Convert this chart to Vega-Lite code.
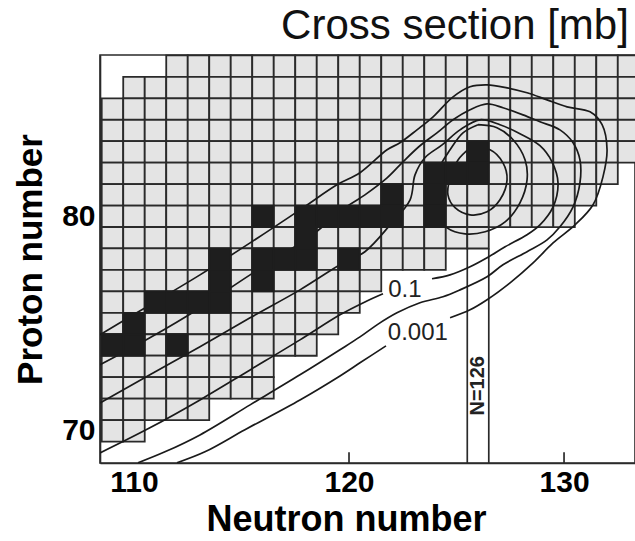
{
"$schema":"https://vega.github.io/schema/vega-lite/v6.json",
"width":535,"height":408,
"autosize":{"type":"none"},
"padding":{"left":100,"top":55,"right":0,"bottom":78},
"background":"white",
"config":{"view":{"stroke":"#2a2a2a","strokeWidth":1.6},"font":"Liberation Sans"},
"title":{"text":"Cross section [mb]","anchor":"end","fontSize":42,"fontWeight":"normal","font":"Liberation Sans","color":"#111","offset":4,"dx":-14},
"datasets":{
"grey":[
{"N":112,"Z":87},{"N":113,"Z":87},{"N":114,"Z":87},{"N":115,"Z":87},{"N":116,"Z":87},{"N":117,"Z":87},{"N":118,"Z":87},{"N":119,"Z":87},{"N":120,"Z":87},{"N":121,"Z":87},{"N":122,"Z":87},{"N":123,"Z":87},{"N":124,"Z":87},{"N":125,"Z":87},{"N":126,"Z":87},{"N":127,"Z":87},{"N":128,"Z":87},{"N":129,"Z":87},{"N":130,"Z":87},{"N":131,"Z":87},{"N":132,"Z":87},{"N":133,"Z":87},
{"N":110,"Z":86},{"N":111,"Z":86},{"N":112,"Z":86},{"N":113,"Z":86},{"N":114,"Z":86},{"N":115,"Z":86},{"N":116,"Z":86},{"N":117,"Z":86},{"N":118,"Z":86},{"N":119,"Z":86},{"N":120,"Z":86},{"N":121,"Z":86},{"N":122,"Z":86},{"N":123,"Z":86},{"N":124,"Z":86},{"N":125,"Z":86},{"N":126,"Z":86},{"N":127,"Z":86},{"N":128,"Z":86},{"N":129,"Z":86},{"N":130,"Z":86},{"N":131,"Z":86},{"N":132,"Z":86},{"N":133,"Z":86},
{"N":109,"Z":85},{"N":110,"Z":85},{"N":111,"Z":85},{"N":112,"Z":85},{"N":113,"Z":85},{"N":114,"Z":85},{"N":115,"Z":85},{"N":116,"Z":85},{"N":117,"Z":85},{"N":118,"Z":85},{"N":119,"Z":85},{"N":120,"Z":85},{"N":121,"Z":85},{"N":122,"Z":85},{"N":123,"Z":85},{"N":124,"Z":85},{"N":125,"Z":85},{"N":126,"Z":85},{"N":127,"Z":85},{"N":128,"Z":85},{"N":129,"Z":85},{"N":130,"Z":85},{"N":131,"Z":85},{"N":132,"Z":85},{"N":133,"Z":85},
{"N":109,"Z":84},{"N":110,"Z":84},{"N":111,"Z":84},{"N":112,"Z":84},{"N":113,"Z":84},{"N":114,"Z":84},{"N":115,"Z":84},{"N":116,"Z":84},{"N":117,"Z":84},{"N":118,"Z":84},{"N":119,"Z":84},{"N":120,"Z":84},{"N":121,"Z":84},{"N":122,"Z":84},{"N":123,"Z":84},{"N":124,"Z":84},{"N":125,"Z":84},{"N":126,"Z":84},{"N":127,"Z":84},{"N":128,"Z":84},{"N":129,"Z":84},{"N":130,"Z":84},{"N":131,"Z":84},{"N":132,"Z":84},{"N":133,"Z":84},
{"N":109,"Z":83},{"N":110,"Z":83},{"N":111,"Z":83},{"N":112,"Z":83},{"N":113,"Z":83},{"N":114,"Z":83},{"N":115,"Z":83},{"N":116,"Z":83},{"N":117,"Z":83},{"N":118,"Z":83},{"N":119,"Z":83},{"N":120,"Z":83},{"N":121,"Z":83},{"N":122,"Z":83},{"N":123,"Z":83},{"N":124,"Z":83},{"N":125,"Z":83},{"N":126,"Z":83},{"N":127,"Z":83},{"N":128,"Z":83},{"N":129,"Z":83},{"N":130,"Z":83},{"N":131,"Z":83},{"N":132,"Z":83},{"N":133,"Z":83},
{"N":109,"Z":82},{"N":110,"Z":82},{"N":111,"Z":82},{"N":112,"Z":82},{"N":113,"Z":82},{"N":114,"Z":82},{"N":115,"Z":82},{"N":116,"Z":82},{"N":117,"Z":82},{"N":118,"Z":82},{"N":119,"Z":82},{"N":120,"Z":82},{"N":121,"Z":82},{"N":122,"Z":82},{"N":123,"Z":82},{"N":124,"Z":82},{"N":125,"Z":82},{"N":126,"Z":82},{"N":127,"Z":82},{"N":128,"Z":82},{"N":129,"Z":82},{"N":130,"Z":82},{"N":131,"Z":82},{"N":132,"Z":82},
{"N":109,"Z":81},{"N":110,"Z":81},{"N":111,"Z":81},{"N":112,"Z":81},{"N":113,"Z":81},{"N":114,"Z":81},{"N":115,"Z":81},{"N":116,"Z":81},{"N":117,"Z":81},{"N":118,"Z":81},{"N":119,"Z":81},{"N":120,"Z":81},{"N":121,"Z":81},{"N":122,"Z":81},{"N":123,"Z":81},{"N":124,"Z":81},{"N":125,"Z":81},{"N":126,"Z":81},{"N":127,"Z":81},{"N":128,"Z":81},{"N":129,"Z":81},{"N":130,"Z":81},{"N":131,"Z":81},
{"N":109,"Z":80},{"N":110,"Z":80},{"N":111,"Z":80},{"N":112,"Z":80},{"N":113,"Z":80},{"N":114,"Z":80},{"N":115,"Z":80},{"N":116,"Z":80},{"N":117,"Z":80},{"N":118,"Z":80},{"N":119,"Z":80},{"N":120,"Z":80},{"N":121,"Z":80},{"N":122,"Z":80},{"N":123,"Z":80},{"N":124,"Z":80},{"N":125,"Z":80},{"N":126,"Z":80},{"N":127,"Z":80},{"N":128,"Z":80},{"N":129,"Z":80},{"N":130,"Z":80},
{"N":109,"Z":79},{"N":110,"Z":79},{"N":111,"Z":79},{"N":112,"Z":79},{"N":113,"Z":79},{"N":114,"Z":79},{"N":115,"Z":79},{"N":116,"Z":79},{"N":117,"Z":79},{"N":118,"Z":79},{"N":119,"Z":79},{"N":120,"Z":79},{"N":121,"Z":79},{"N":122,"Z":79},{"N":123,"Z":79},{"N":124,"Z":79},{"N":125,"Z":79},{"N":126,"Z":79},
{"N":109,"Z":78},{"N":110,"Z":78},{"N":111,"Z":78},{"N":112,"Z":78},{"N":113,"Z":78},{"N":114,"Z":78},{"N":115,"Z":78},{"N":116,"Z":78},{"N":117,"Z":78},{"N":118,"Z":78},{"N":119,"Z":78},{"N":120,"Z":78},{"N":121,"Z":78},{"N":122,"Z":78},{"N":123,"Z":78},{"N":124,"Z":78},
{"N":109,"Z":77},{"N":110,"Z":77},{"N":111,"Z":77},{"N":112,"Z":77},{"N":113,"Z":77},{"N":114,"Z":77},{"N":115,"Z":77},{"N":116,"Z":77},{"N":117,"Z":77},{"N":118,"Z":77},{"N":119,"Z":77},{"N":120,"Z":77},{"N":121,"Z":77},
{"N":109,"Z":76},{"N":110,"Z":76},{"N":111,"Z":76},{"N":112,"Z":76},{"N":113,"Z":76},{"N":114,"Z":76},{"N":115,"Z":76},{"N":116,"Z":76},{"N":117,"Z":76},{"N":118,"Z":76},{"N":119,"Z":76},{"N":120,"Z":76},
{"N":109,"Z":75},{"N":110,"Z":75},{"N":111,"Z":75},{"N":112,"Z":75},{"N":113,"Z":75},{"N":114,"Z":75},{"N":115,"Z":75},{"N":116,"Z":75},{"N":117,"Z":75},{"N":118,"Z":75},{"N":119,"Z":75},
{"N":109,"Z":74},{"N":110,"Z":74},{"N":111,"Z":74},{"N":112,"Z":74},{"N":113,"Z":74},{"N":114,"Z":74},{"N":115,"Z":74},{"N":116,"Z":74},{"N":117,"Z":74},{"N":118,"Z":74},
{"N":109,"Z":73},{"N":110,"Z":73},{"N":111,"Z":73},{"N":112,"Z":73},{"N":113,"Z":73},{"N":114,"Z":73},{"N":115,"Z":73},{"N":116,"Z":73},
{"N":109,"Z":72},{"N":110,"Z":72},{"N":111,"Z":72},{"N":112,"Z":72},{"N":113,"Z":72},{"N":114,"Z":72},{"N":115,"Z":72},{"N":116,"Z":72},
{"N":109,"Z":71},{"N":110,"Z":71},{"N":111,"Z":71},{"N":112,"Z":71},{"N":113,"Z":71},
{"N":109,"Z":70},{"N":110,"Z":70}
],
"stable":[
{"N":126,"Z":83},
{"N":124,"Z":82},{"N":125,"Z":82},{"N":126,"Z":82},
{"N":122,"Z":81},{"N":124,"Z":81},
{"N":116,"Z":80},{"N":118,"Z":80},{"N":119,"Z":80},{"N":120,"Z":80},{"N":121,"Z":80},{"N":122,"Z":80},{"N":124,"Z":80},
{"N":118,"Z":79},
{"N":114,"Z":78},{"N":116,"Z":78},{"N":117,"Z":78},{"N":118,"Z":78},{"N":120,"Z":78},
{"N":114,"Z":77},{"N":116,"Z":77},
{"N":111,"Z":76},{"N":112,"Z":76},{"N":113,"Z":76},{"N":114,"Z":76},
{"N":110,"Z":75},
{"N":109,"Z":74},{"N":110,"Z":74},{"N":112,"Z":74}
],
"rules":[
{"r":"n1","N":125.5,"Z":68.5},{"r":"n1","N":125.5,"Z":78.5},
{"r":"n2","N":126.5,"Z":68.5},{"r":"n2","N":126.5,"Z":78.5},
{"r":"t1","N":120,"Z":68.5},{"r":"t1","N":120,"Z":69.0},
{"r":"t2","N":130,"Z":68.5},{"r":"t2","N":130,"Z":69.0}
],
"contours":[
{"c":"c1","o":1,"N":125.63,"Z":83.19},{"c":"c1","o":2,"N":126.56,"Z":83.10},{"c":"c1","o":3,"N":127.16,"Z":82.49},{"c":"c1","o":4,"N":127.35,"Z":81.70},{"c":"c1","o":5,"N":127.02,"Z":80.77},{"c":"c1","o":6,"N":126.42,"Z":80.21},{"c":"c1","o":7,"N":125.63,"Z":80.07},{"c":"c1","o":8,"N":124.93,"Z":80.40},{"c":"c1","o":9,"N":124.60,"Z":81.00},{"c":"c1","o":10,"N":124.70,"Z":81.79},{"c":"c1","o":11,"N":125.07,"Z":82.63},{"c":"c1","o":12,"N":125.63,"Z":83.19},
{"c":"c2","o":1,"N":126.0,"Z":84.27},{"c":"c2","o":2,"N":126.88,"Z":84.13},{"c":"c2","o":3,"N":127.63,"Z":83.57},{"c":"c2","o":4,"N":128.19,"Z":82.63},{"c":"c2","o":5,"N":128.28,"Z":81.70},{"c":"c2","o":6,"N":127.95,"Z":80.63},{"c":"c2","o":7,"N":127.26,"Z":79.74},{"c":"c2","o":8,"N":126.33,"Z":79.28},{"c":"c2","o":9,"N":125.40,"Z":79.18},{"c":"c2","o":10,"N":124.56,"Z":79.46},{"c":"c2","o":11,"N":124.05,"Z":80.16},{"c":"c2","o":12,"N":123.86,"Z":81.00},{"c":"c2","o":13,"N":124.09,"Z":82.07},{"c":"c2","o":14,"N":124.70,"Z":83.10},{"c":"c2","o":15,"N":125.30,"Z":83.89},{"c":"c2","o":16,"N":126.0,"Z":84.27},
{"c":"p1a","o":1,"N":108.42,"Z":71.30},{"c":"p1a","o":2,"N":110.74,"Z":72.61},{"c":"p1a","o":3,"N":113.07,"Z":73.92},{"c":"p1a","o":4,"N":115.40,"Z":75.27},{"c":"p1a","o":5,"N":117.72,"Z":76.57},{"c":"p1a","o":6,"N":119.58,"Z":77.74},{"c":"p1a","o":7,"N":120.74,"Z":78.35},{"c":"p1a","o":8,"N":121.91,"Z":79.60},{"c":"p1a","o":9,"N":122.84,"Z":80.77},{"c":"p1a","o":10,"N":123.07,"Z":81.93},{"c":"p1a","o":11,"N":123.53,"Z":82.73},{"c":"p1a","o":12,"N":124.33,"Z":83.33},{"c":"p1a","o":13,"N":125.16,"Z":84.03},{"c":"p1a","o":14,"N":126.09,"Z":84.50},{"c":"p1a","o":15,"N":127.02,"Z":84.27},{"c":"p1a","o":16,"N":127.95,"Z":83.85},{"c":"p1a","o":17,"N":128.88,"Z":83.29},{"c":"p1a","o":18,"N":129.44,"Z":82.54},{"c":"p1a","o":19,"N":129.72,"Z":81.56},{"c":"p1a","o":20,"N":129.49,"Z":80.44},{"c":"p1a","o":21,"N":128.88,"Z":79.60},{"c":"p1a","o":22,"N":128.28,"Z":79.14},{"c":"p1a","o":23,"N":127.26,"Z":78.58},{"c":"p1a","o":24,"N":126.42,"Z":78.07},{"c":"p1a","o":25,"N":125.63,"Z":77.65},{"c":"p1a","o":26,"N":124.70,"Z":77.27},{"c":"p1a","o":27,"N":123.86,"Z":77.09},
{"c":"p1b","o":1,"N":121.58,"Z":76.39},{"c":"p1b","o":2,"N":120.74,"Z":76.01},{"c":"p1b","o":3,"N":119.58,"Z":75.41},{"c":"p1b","o":4,"N":117.72,"Z":74.24},{"c":"p1b","o":5,"N":115.40,"Z":72.84},{"c":"p1b","o":6,"N":113.07,"Z":71.44},{"c":"p1b","o":7,"N":110.74,"Z":70.14},{"c":"p1b","o":8,"N":108.42,"Z":68.97},
{"c":"p2","o":1,"N":108.42,"Z":73.08},{"c":"p2","o":2,"N":110.74,"Z":74.34},{"c":"p2","o":3,"N":113.07,"Z":75.73},{"c":"p2","o":4,"N":115.40,"Z":77.27},{"c":"p2","o":5,"N":117.26,"Z":78.44},{"c":"p2","o":6,"N":118.42,"Z":79.23},{"c":"p2","o":7,"N":119.67,"Z":80.30},{"c":"p2","o":8,"N":120.74,"Z":81.00},{"c":"p2","o":9,"N":121.77,"Z":81.79},{"c":"p2","o":10,"N":122.51,"Z":82.54},{"c":"p2","o":11,"N":123.30,"Z":83.29},{"c":"p2","o":12,"N":124.09,"Z":83.89},{"c":"p2","o":13,"N":124.84,"Z":84.50},{"c":"p2","o":14,"N":125.63,"Z":84.97},{"c":"p2","o":15,"N":126.42,"Z":85.24},{"c":"p2","o":16,"N":127.16,"Z":85.06},{"c":"p2","o":17,"N":128.09,"Z":84.73},{"c":"p2","o":18,"N":128.88,"Z":84.41},{"c":"p2","o":19,"N":129.81,"Z":84.03},{"c":"p2","o":20,"N":130.42,"Z":83.43},{"c":"p2","o":21,"N":130.74,"Z":82.63},{"c":"p2","o":22,"N":130.74,"Z":81.56},{"c":"p2","o":23,"N":130.42,"Z":80.44},{"c":"p2","o":24,"N":129.81,"Z":79.51},{"c":"p2","o":25,"N":129.21,"Z":78.90},{"c":"p2","o":26,"N":128.28,"Z":78.35},{"c":"p2","o":27,"N":127.16,"Z":77.74},{"c":"p2","o":28,"N":126.42,"Z":77.18},{"c":"p2","o":29,"N":125.16,"Z":76.57},{"c":"p2","o":30,"N":124.37,"Z":76.25},{"c":"p2","o":31,"N":123.30,"Z":75.97},{"c":"p2","o":32,"N":122.23,"Z":75.50},{"c":"p2","o":33,"N":121.30,"Z":74.94},{"c":"p2","o":34,"N":120.51,"Z":74.38},{"c":"p2","o":35,"N":119.58,"Z":73.78},{"c":"p2","o":36,"N":117.72,"Z":72.61},{"c":"p2","o":37,"N":115.40,"Z":71.21},{"c":"p2","o":38,"N":113.07,"Z":69.81},{"c":"p2","o":39,"N":111.44,"Z":69.02},{"c":"p2","o":40,"N":110.19,"Z":68.51},
{"c":"p3a","o":1,"N":108.42,"Z":74.48},{"c":"p3a","o":2,"N":110.74,"Z":75.87},{"c":"p3a","o":3,"N":113.07,"Z":77.27},{"c":"p3a","o":4,"N":115.40,"Z":78.76},{"c":"p3a","o":5,"N":117.72,"Z":80.30},{"c":"p3a","o":6,"N":119.44,"Z":81.47},{"c":"p3a","o":7,"N":120.51,"Z":82.03},{"c":"p3a","o":8,"N":121.77,"Z":83.10},{"c":"p3a","o":9,"N":122.37,"Z":83.43},{"c":"p3a","o":10,"N":123.16,"Z":84.03},{"c":"p3a","o":11,"N":123.91,"Z":84.64},{"c":"p3a","o":12,"N":124.84,"Z":85.57},{"c":"p3a","o":13,"N":125.63,"Z":86.04},{"c":"p3a","o":14,"N":126.42,"Z":86.13},{"c":"p3a","o":15,"N":127.35,"Z":85.99},{"c":"p3a","o":16,"N":128.28,"Z":85.76},{"c":"p3a","o":17,"N":129.21,"Z":85.43},{"c":"p3a","o":18,"N":130.14,"Z":85.10},{"c":"p3a","o":19,"N":131.21,"Z":84.87},{"c":"p3a","o":20,"N":131.77,"Z":84.27},{"c":"p3a","o":21,"N":132.0,"Z":83.10},{"c":"p3a","o":22,"N":131.81,"Z":81.84},{"c":"p3a","o":23,"N":131.35,"Z":80.54},{"c":"p3a","o":24,"N":130.51,"Z":79.60},{"c":"p3a","o":25,"N":129.49,"Z":78.76},{"c":"p3a","o":26,"N":128.56,"Z":77.83},{"c":"p3a","o":27,"N":127.49,"Z":76.90},{"c":"p3a","o":28,"N":126.42,"Z":76.11},{"c":"p3a","o":29,"N":125.63,"Z":75.64},{"c":"p3a","o":30,"N":124.70,"Z":75.27},
{"c":"p3b","o":1,"N":121.72,"Z":73.96},{"c":"p3b","o":2,"N":120.51,"Z":73.17},{"c":"p3b","o":3,"N":119.58,"Z":72.56},{"c":"p3b","o":4,"N":117.72,"Z":71.44},{"c":"p3b","o":5,"N":115.16,"Z":70.05},{"c":"p3b","o":6,"N":113.30,"Z":69.02},{"c":"p3b","o":7,"N":112.0,"Z":68.51}
]
},
"encoding":{
"x":{"field":"N","type":"quantitative","scale":{"domain":[108.42,133.3],"nice":false,"zero":false},
 "axis":{"values":[110,120,130],"title":"Neutron number","titleFontSize":36,"titleFontWeight":"bold","titleColor":"#000","titleFont":"Liberation Sans","titleX":246,"labelFontSize":30,"labelFontWeight":"bold","labelColor":"#000","labelFont":"Liberation Sans","ticks":false,"labelPadding":4,"domainColor":"#2a2a2a","domainWidth":1.6,"grid":false,"titlePadding":5,"labelFlush":false,"labelOverlap":false}},
"y":{"field":"Z","type":"quantitative","scale":{"domain":[68.5,87.52],"nice":false,"zero":false},
 "axis":{"values":[70,80],"title":"Proton number","titleFontSize":35,"titleFontWeight":"bold","titleColor":"#000","titleFont":"Liberation Sans","labelFontSize":30,"labelFontWeight":"bold","labelColor":"#000","labelFont":"Liberation Sans","ticks":false,"labelPadding":5,"domainColor":"#2a2a2a","domainWidth":1.6,"grid":false,"titlePadding":13,"labelFlush":false,"labelOverlap":false}}
},
"layer":[
{"data":{"name":"grey"},"mark":{"type":"square","size":462,"filled":true,"color":"#e4e4e4","stroke":"#2a2a2a","strokeWidth":1.8,"opacity":1}},
{"data":{"name":"rules"},"mark":{"type":"line","color":"#2a2a2a","strokeWidth":1.7},"encoding":{"detail":{"field":"r"}}},
{"data":{"name":"contours"},"mark":{"type":"line","color":"#1a1a1a","strokeWidth":1.7,"interpolate":"catmull-rom","clip":true},"encoding":{"detail":{"field":"c"},"order":{"field":"o","type":"quantitative"}}},
{"data":{"name":"stable"},"mark":{"type":"square","size":462,"filled":true,"color":"#1e1e1e","stroke":"#1e1e1e","strokeWidth":1.8,"opacity":1}},
{"data":{"values":[{"t":"0.1","N":122.6,"Z":76.57},{"t":"0.001","N":123.2,"Z":74.57}]},"mark":{"type":"text","fontSize":24,"font":"Liberation Sans","color":"#222","align":"center","baseline":"middle"},"encoding":{"text":{"field":"t"}}},
{"data":{"values":[{"t":"N=126","N":126.0,"Z":72.1}]},"mark":{"type":"text","fontSize":20,"fontWeight":"bold","font":"Liberation Sans","color":"#222","align":"center","baseline":"middle","angle":270},"encoding":{"text":{"field":"t"}}}
]
}
